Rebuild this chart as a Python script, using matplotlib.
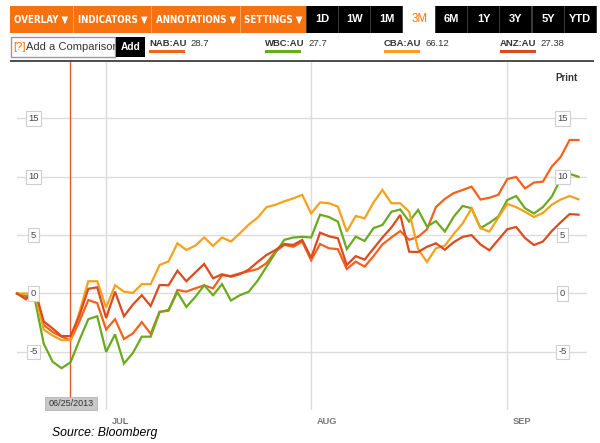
import numpy as np
import pandas as pd
import matplotlib
matplotlib.use('Agg')
import matplotlib.pyplot as plt
from matplotlib.patches import Rectangle
from matplotlib import font_manager as fm
from matplotlib.transforms import blended_transform_factory

# ---------------- data ----------------
dates = pd.bdate_range('2013-06-17', periods=64)   # trading days shown (3M view)
marker_date = '2013-06-25'

nab = [0, -0.3, 0.3, -2.7, -3.3, -3.7, -4.0, -2.4, -0.56, -0.82,
       -3.08, -2.2, -3.9, -3.42, -2.45, -3.45, -1.56, -1.48, 0.3, 0.16,
       0.44, 0.7, 0.44, 1.56, 1.5, 1.73, 1.9, 2.1, 2.6, 3.6,
       4.16, 4.0, 4.44, 2.85, 4.24, 3.87, 3.8, 2.1, 2.73, 2.3,
       3.2, 4.2, 4.8, 5.35, 4.6, 4.85, 5.5, 7.4, 8.1, 8.6,
       8.87, 9.15, 8.05, 8.2, 8.45, 9.8, 9.98, 9.0, 9.5, 9.58,
       10.87, 11.7, 13.15, 13.15]
wbc = [0, -0.2, -0.5, -4.3, -5.85, -6.4, -5.9, -4.0, -2.2, -1.95,
       -5.0, -3.5, -6.0, -5.1, -3.7, -3.7, -1.6, -1.4, 0.1, -1.15,
       -0.3, 0.7, -0.15, 0.8, -0.6, -0.15, 0.15, 1.1, 2.3, 3.5,
       4.6, 4.8, 4.85, 4.8, 6.75, 6.55, 6.15, 3.8, 4.87, 4.5,
       5.6, 5.87, 7.0, 7.2, 6.16, 7.16, 5.73, 6.2, 5.3, 6.58,
       7.5, 7.3, 5.6, 6.05, 6.6, 8.0, 8.35, 7.3, 6.85, 7.4,
       8.3, 9.8, 10.25, 10.0]
cba = [0, 0, 0, -3.1, -3.6, -4.0, -4.0, -1.6, 1.05, 1.05,
       -1.2, 0.7, 0.16, 0.05, 0.8, 0.8, 2.44, 2.75, 4.3, 3.73,
       4.1, 4.8, 4.07, 4.8, 4.45, 5.15, 5.9, 6.5, 7.4, 7.6,
       7.9, 8.15, 8.45, 6.85, 7.8, 7.73, 7.44, 5.3, 6.64, 6.44,
       7.8, 8.87, 7.73, 7.73, 7.0, 3.8, 2.7, 3.87, 4.1, 5.1,
       6.0, 7.3, 5.6, 5.3, 6.5, 7.67, 7.4, 7.0, 6.55, 6.9,
       7.6, 8.05, 8.35, 8.07]
anz = [0, -0.5, 0.35, -2.4, -3.0, -3.65, -3.65, -1.9, 0.4, 0.53,
       -2.1, 0.16, -1.95, -0.95, -0.15, -1.07, 0.73, 0.7, 1.95, 1.05,
       1.8, 2.53, 1.3, 1.65, 1.44, 1.65, 2.05, 2.7, 3.3, 3.73,
       4.24, 4.16, 4.59, 3.05, 5.21, 4.9, 4.73, 2.44, 3.2, 2.9,
       3.85, 4.8, 5.65, 6.73, 3.58, 3.55, 4.0, 4.3, 3.75, 4.4,
       4.85, 5.0, 4.2, 3.7, 4.6, 5.5, 5.7, 4.75, 4.15, 4.45,
       5.35, 6.1, 6.8, 6.75]

tickers = ['NAB:AU', 'WBC:AU', 'CBA:AU', 'ANZ:AU']
last_prices = ['28.7', '27.7', '66.12', '27.38']
series = [nab, wbc, cba, anz]
series_colors = ['#F2621C', '#6BAA1E', '#F6A11E', '#DD4A1D']
yticks = [-5, 0, 5, 10, 15]
menus = ['OVERLAY \u25BC', 'INDICATORS \u25BC', 'ANNOTATIONS \u25BC', 'SETTINGS \u25BC']
ranges = ['1D', '1W', '1M', '3M', '6M', '1Y', '3Y', '5Y', 'YTD']
active_range = '3M'

# ---------------- helpers ----------------
W, H = 600, 443
names = {f.name for f in fm.fontManager.ttflist}
cond = any(f.name == 'DejaVu Sans' and f.stretch == 'condensed' for f in fm.fontManager.ttflist)
if 'Liberation Sans Narrow' in names:
    NARROW, NSTRETCH, MSIZE = 'Liberation Sans Narrow', 'normal', 7.8
elif cond:
    NARROW, NSTRETCH, MSIZE = 'DejaVu Sans', 'condensed', 7.0
else:
    NARROW, NSTRETCH, MSIZE = 'Liberation Sans', 'normal', 6.7
SANS = ['Liberation Sans', 'DejaVu Sans']

fig = plt.figure(figsize=(W / 100, H / 100), dpi=100)
fig.patch.set_facecolor('white')


def fx(px):
    return px / W


def fy(py):
    return 1 - py / H


def rect(x0, y0, x1, y1, **kw):
    r = Rectangle((fx(x0), fy(y1)), (x1 - x0) / W, (y1 - y0) / H,
                  transform=fig.transFigure, **kw)
    fig.add_artist(r)
    return r


def ftext(px, py, s, **kw):
    return fig.text(fx(px), fy(py), s, **kw)


ORANGE = '#F7720F'

# ---------------- toolbar ----------------
menu_bounds = [(10, 73), (74, 151), (152, 240), (241, 306)]
for (x0, x1), label in zip(menu_bounds, menus):
    rect(x0, 6, x1, 33, facecolor=ORANGE, edgecolor='none')
    ftext((x0 + x1) / 2, 19.5, label, color='white', fontsize=MSIZE,
          fontweight='bold', family=[NARROW, 'DejaVu Sans'], fontstretch=NSTRETCH,
          ha='center', va='center')
for xs in [73.5, 151.5, 240.5]:
    rect(xs - 0.5, 6, xs + 0.5, 33, facecolor='#FBA15E', edgecolor='none')

rect(306, 6, 597, 33, facecolor='#3a3a3a', edgecolor='none')
bw = (597 - 307) / len(ranges)
for k, label in enumerate(ranges):
    x0 = 307 + k * bw
    x1 = x0 + bw - 1.2
    if label == active_range:
        rect(x0 - 0.6, 6, x1 + 0.6, 33, facecolor='white', edgecolor='none')
        ftext((x0 + x1) / 2, 19.5, label, color=ORANGE, fontsize=8.3,
              family=SANS, ha='center', va='center')
    else:
        rect(x0, 6, x1, 33, facecolor='black', edgecolor='none')
        ftext((x0 + x1) / 2, 19.5, label, color='white', fontsize=8.0,
              fontweight='bold', family=SANS,
              ha='center', va='center')

# ---------------- comparison row ----------------
box = rect(11, 37, 115, 57, facecolor='white', edgecolor='#9a9a9a', linewidth=1)
ftext(13, 47.5, '[?]', color=ORANGE, fontsize=8.0, family=SANS, va='center')
t = ftext(26, 47.5, 'Add a Comparison', color='#333333', fontsize=8.0,
          family=SANS, va='center')
t.set_clip_path(box)
rect(116, 37, 145, 57, facecolor='black', edgecolor='none')
ftext(130.5, 47.5, 'Add', color='white', fontsize=7.3, fontweight='bold',
      family=SANS, ha='center', va='center')

renderer = fig.canvas.get_renderer()
legend_x = [149, 265, 384, 500]
for x0, tk, val, col in zip(legend_x, tickers, last_prices, series_colors):
    tt = ftext(x0, 43, tk, color='#333333', fontsize=6.8, fontweight='bold',
               family=SANS, va='center')
    bb = tt.get_window_extent(renderer=renderer)
    ftext(bb.x1 + 4, 43, val, color='#333333', fontsize=6.8, family=SANS,
          va='center')
    rect(x0, 50, x0 + 36, 53, facecolor=col, edgecolor='none')

# dark separator line
rect(10, 60, 594, 62, facecolor='#505050', edgecolor='none')

# ---------------- chart ----------------
ax = fig.add_axes([fx(17), fy(410), (587 - 17) / W, (410 - 62) / H])
ax.set_xlim(0, 63.95)
ax.set_ylim(-9.98, 19.83)
for s in ax.spines.values():
    s.set_visible(False)
ax.set_facecolor('none')

xi = np.arange(len(dates))
month_idx = [i for i in range(1, len(dates)) if dates[i].month != dates[i - 1].month]
month_lbl = [dates[i].strftime('%b').upper() for i in month_idx]
marker_idx = int(np.where(dates == pd.Timestamp(marker_date))[0][0])

ax.set_yticks(yticks)
ax.set_xticks(month_idx)
ax.grid(True, color='#dcdcdc', linewidth=1.0)
ax.set_axisbelow(True)
ax.tick_params(length=0, labelbottom=False, labelleft=False)

for vals, col in zip(series, series_colors):
    ax.plot(xi, vals, color=col, linewidth=1.6, solid_joinstyle='miter',
            clip_on=False, zorder=3)

ax.axvline(marker_idx, ymin=(410 - 397) / (410 - 62), ymax=1,
           color='#D9612B', linewidth=1.0, zorder=2)

ytr = blended_transform_factory(ax.transAxes, ax.transData)
for v in yticks:
    for xa in (0.029, 0.957):
        ax.text(xa, v, str(v), transform=ytr, ha='center', va='center',
                fontsize=6.8, color='#444444', family=SANS, zorder=6,
                bbox=dict(boxstyle='square,pad=0.28', facecolor='white',
                          edgecolor='#cfcfcf', linewidth=0.8))

xtr = blended_transform_factory(ax.transData, ax.transAxes)
for i, lbl in zip(month_idx, month_lbl):
    ax.text(i + 0.65, (410 - 421) / (410 - 62), lbl, transform=xtr,
            ha='left', va='center', fontsize=6.7, fontweight='bold',
            color='#777777', family=SANS)

# date marker label
rect(45, 397, 97, 410, facecolor='#c8c8c8', edgecolor='#b5b5b5', linewidth=0.6)
ftext(71, 403.5, pd.Timestamp(marker_date).strftime('%m/%d/%Y'), color='#333333',
      fontsize=6.5, family=SANS, ha='center', va='center')

ftext(567, 78, 'Print', color='#333333', fontsize=7, fontweight='bold',
      family=SANS, ha='center', va='center')

ftext(52, 433, 'Source: Bloomberg', color='black', fontsize=8.8,
      style='italic', family=SANS, ha='left', va='center')

fig.savefig('out.png', dpi=100)
